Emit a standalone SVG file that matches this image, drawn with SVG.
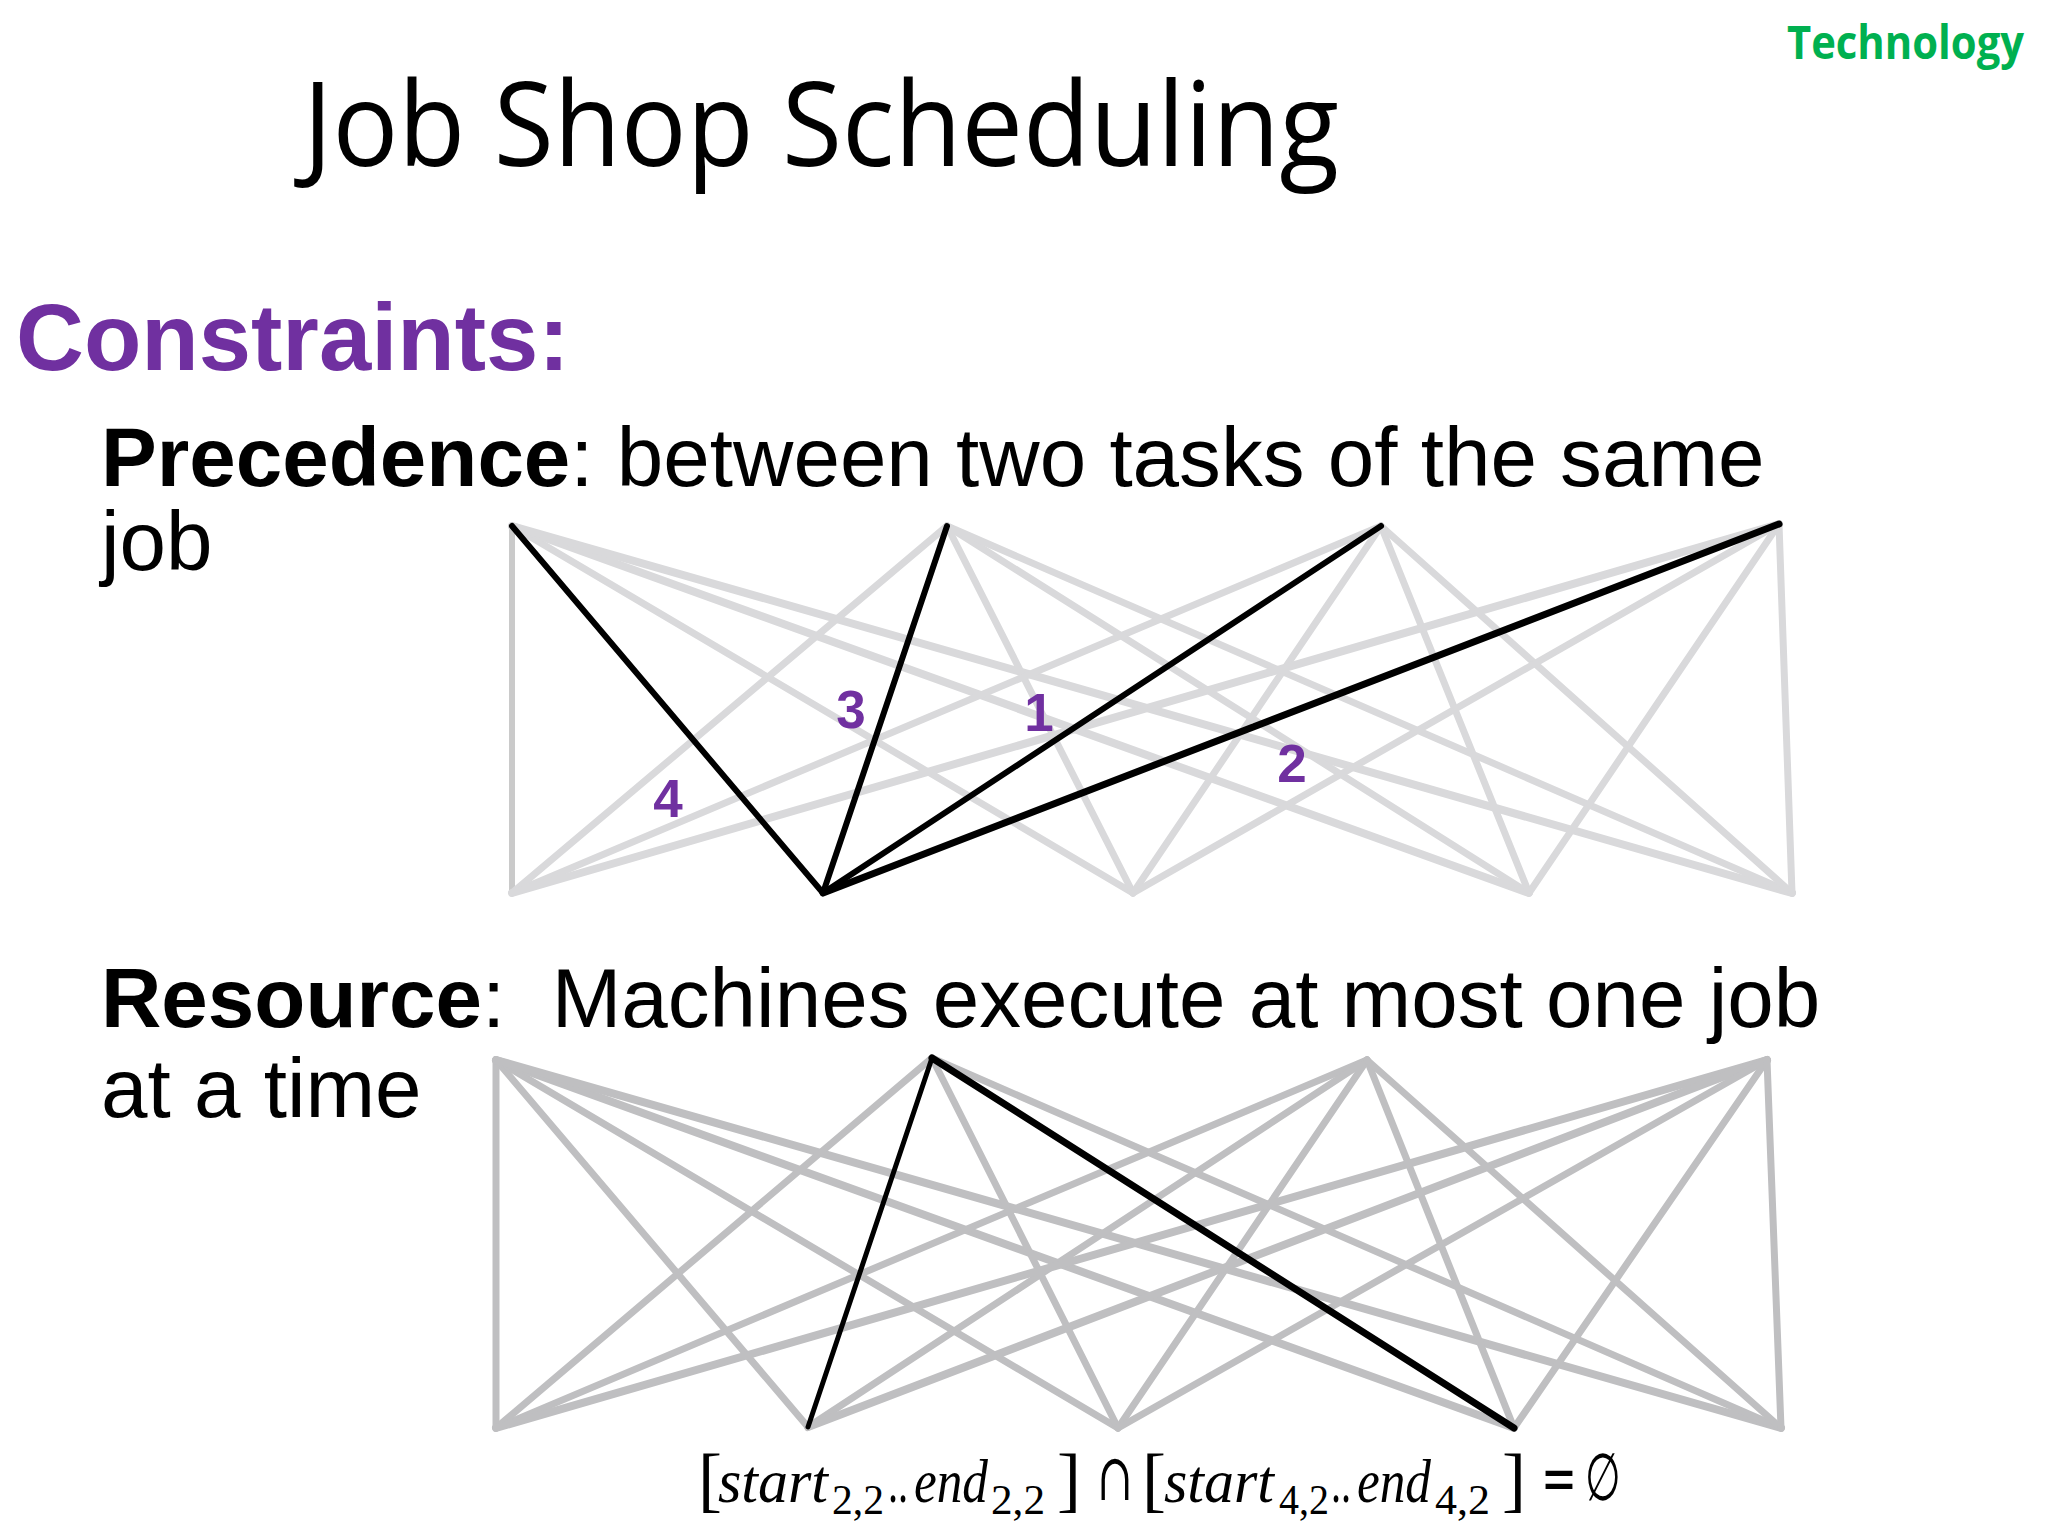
<svg xmlns="http://www.w3.org/2000/svg" width="2048" height="1536" viewBox="0 0 2048 1536">
<style>
.title{font-family:"Open Sans","Noto Sans",sans-serif;font-size:118px;fill:#000}
.tech{font-family:"Open Sans","Noto Sans",sans-serif;font-weight:700;font-size:46px;fill:#00b050}
.head{font-family:"Liberation Sans",Arial,sans-serif;font-weight:700;font-size:94px;fill:#7030a0}
.body{font-family:"Liberation Sans",Arial,sans-serif;font-size:83.6px;fill:#000}
.b{font-weight:700}
.num{font-family:"Liberation Sans",Arial,sans-serif;font-weight:700;font-size:53px;fill:#7030a0;text-anchor:middle}
.ga line{stroke:#d9d9db;stroke-width:7;stroke-linecap:round}
.gb line{stroke:#bfbfc1;stroke-width:7;stroke-linecap:round}
.blk line{stroke:#000;stroke-width:6;stroke-linecap:round}
.f{font-family:"Liberation Serif","DejaVu Serif",serif;fill:#000}
.m{font-style:italic;font-size:62px}
.s{font-size:42px}
.u{font-family:"DejaVu Serif","Liberation Serif",serif;font-size:66px}
.br{font-size:72px}
</style>
<rect width="2048" height="1536" fill="#fff"/>
<g id="title"><text class="title" x="303" y="166" textLength="1036" lengthAdjust="spacingAndGlyphs">Job Shop Scheduling</text></g>
<g id="tech"><text class="tech" x="1787" y="59" textLength="237" lengthAdjust="spacingAndGlyphs">Technology</text></g>
<g id="constraints"><text class="head" x="16" y="370">Constraints:</text></g>
<g id="precedence-text">
<text class="body" x="101" y="486"><tspan class="b">Precedence</tspan>: between two tasks of the same</text>
<text class="body" x="101" y="570">job</text>
</g>
<g id="resource-text">
<text class="body" x="101" y="1027" xml:space="preserve"><tspan class="b">Resource</tspan>:  Machines execute at most one job</text>
<text class="body" x="101" y="1117">at a time</text>
</g>
<g id="connectors">
<g id="precedence-graph">
<g class="ga">
<line x1="512" y1="526" x2="512" y2="893" style="stroke:#cacaca;stroke-width:6"/>
<line x1="512" y1="526" x2="1133" y2="893"/>
<line x1="512" y1="526" x2="1529" y2="893" style="stroke-width:8"/>
<line x1="512" y1="526" x2="1792" y2="893" style="stroke-width:8"/>
<line x1="947" y1="526" x2="512" y2="893"/>
<line x1="947" y1="526" x2="1133" y2="893"/>
<line x1="947" y1="526" x2="1529" y2="893"/>
<line x1="947" y1="526" x2="1792" y2="893"/>
<line x1="1381" y1="526" x2="512" y2="893"/>
<line x1="1381" y1="526" x2="1133" y2="893"/>
<line x1="1381" y1="526" x2="1529" y2="893"/>
<line x1="1381" y1="526" x2="1792" y2="893"/>
<line x1="1779" y1="524" x2="512" y2="893" style="stroke-width:8"/>
<line x1="1779" y1="524" x2="1133" y2="893"/>
<line x1="1779" y1="524" x2="1529" y2="893"/>
<line x1="1779" y1="524" x2="1792" y2="893"/>
</g>
<g class="blk">
<line x1="512" y1="526" x2="823" y2="893"/>
<line x1="947" y1="526" x2="823" y2="893"/>
<line x1="1381" y1="526" x2="823" y2="893"/>
<line x1="1779" y1="524" x2="823" y2="893" style="stroke-width:7"/>
</g>
</g>
<g id="resource-graph">
<g class="gb">
<line x1="496" y1="1060" x2="496" y2="1428"/>
<line x1="496" y1="1060" x2="808" y2="1427"/>
<line x1="496" y1="1060" x2="1118" y2="1428"/>
<line x1="496" y1="1060" x2="1514" y2="1428" style="stroke-width:8"/>
<line x1="496" y1="1060" x2="1781" y2="1428" style="stroke-width:8"/>
<line x1="932" y1="1058" x2="496" y2="1428"/>
<line x1="932" y1="1058" x2="1118" y2="1428"/>
<line x1="932" y1="1058" x2="1781" y2="1428"/>
<line x1="1367" y1="1060" x2="496" y2="1428"/>
<line x1="1367" y1="1060" x2="808" y2="1427"/>
<line x1="1367" y1="1060" x2="1118" y2="1428"/>
<line x1="1367" y1="1060" x2="1514" y2="1428"/>
<line x1="1367" y1="1060" x2="1781" y2="1428"/>
<line x1="1767" y1="1060" x2="496" y2="1428" style="stroke-width:8"/>
<line x1="1767" y1="1060" x2="808" y2="1427" style="stroke-width:8"/>
<line x1="1767" y1="1060" x2="1118" y2="1428"/>
<line x1="1767" y1="1060" x2="1514" y2="1428"/>
<line x1="1767" y1="1060" x2="1781" y2="1428"/>
</g>
<g class="blk">
<line x1="932" y1="1058" x2="808" y2="1427" style="stroke-width:5"/>
<line x1="932" y1="1058" x2="1514" y2="1428" style="stroke-width:7"/>
</g>
</g>
</g>
<g id="labels">
<text class="num" x="851" y="728">3</text>
<text class="num" x="1039" y="731">1</text>
<text class="num" x="1292" y="782">2</text>
<text class="num" x="668" y="817">4</text>
</g>
<g id="formula">
<text class="f" y="1502"><tspan class="br" x="698" y="1503">[</tspan><tspan class="m" x="718" y="1502" textLength="110" lengthAdjust="spacingAndGlyphs">start</tspan><tspan class="s" x="832" y="1514" textLength="52" lengthAdjust="spacingAndGlyphs">2,2</tspan><tspan class="m" x="889" y="1502" textLength="20" lengthAdjust="spacingAndGlyphs">..</tspan><tspan class="m" x="914" y="1502" textLength="74" lengthAdjust="spacingAndGlyphs">end</tspan><tspan class="s" x="991" y="1514" textLength="54" lengthAdjust="spacingAndGlyphs">2,2</tspan><tspan class="br" x="1057" y="1503">]</tspan><tspan class="u" x="1097" y="1500" textLength="36" lengthAdjust="spacingAndGlyphs">∩</tspan><tspan class="br" x="1142" y="1503">[</tspan><tspan class="m" x="1164" y="1502" textLength="110" lengthAdjust="spacingAndGlyphs">start</tspan><tspan class="s" x="1279" y="1514" textLength="50" lengthAdjust="spacingAndGlyphs">4,2</tspan><tspan class="m" x="1332" y="1502" textLength="20" lengthAdjust="spacingAndGlyphs">..</tspan><tspan class="m" x="1357" y="1502" textLength="74" lengthAdjust="spacingAndGlyphs">end</tspan><tspan class="s" x="1435" y="1514" textLength="55" lengthAdjust="spacingAndGlyphs">4,2</tspan><tspan class="br" x="1502" y="1503">]</tspan><tspan class="u" x="1541" y="1500" textLength="36" lengthAdjust="spacingAndGlyphs">=</tspan><tspan class="u" x="1585" y="1500" textLength="36" lengthAdjust="spacingAndGlyphs">∅</tspan></text>
</g>
</svg>
